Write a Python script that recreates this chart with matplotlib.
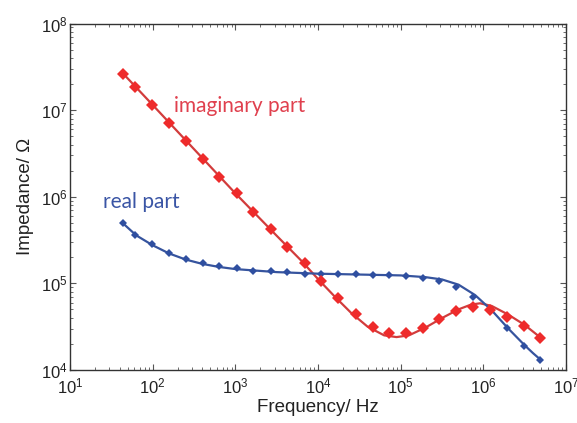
import numpy as np
import matplotlib
matplotlib.use("Agg")
import matplotlib.pyplot as plt
from matplotlib.ticker import LogLocator, NullFormatter

plt.rcParams['font.family'] = ['Liberation Sans', 'DejaVu Sans']
plt.rcParams['mathtext.fontset'] = 'custom'
plt.rcParams['mathtext.rm'] = 'Liberation Sans'
plt.rcParams['mathtext.it'] = 'Liberation Sans'

# measured points (log10 frequency, log10 impedance)
meas_logf = [1.645, 1.786, 1.995, 2.197, 2.399, 2.604, 2.805, 3.015, 3.216, 3.427,
             3.628, 3.842, 4.031, 4.244, 4.458, 4.66, 4.862, 5.063, 5.265, 5.466,
             5.667, 5.869, 6.078, 6.28, 6.49, 6.69]
imag_logz = [7.417, 7.263, 7.055, 6.848, 6.640, 6.432, 6.231, 6.039, 5.827, 5.624,
             5.416, 5.231, 5.027, 4.827, 4.642, 4.499, 4.423, 4.423, 4.482, 4.586,
             4.682, 4.730, 4.692, 4.616, 4.507, 4.368]
real_logz = [5.693, 5.558, 5.450, 5.346, 5.277, 5.238, 5.200, 5.173, 5.146, 5.142,
             5.134, 5.110, 5.112, 5.107, 5.104, 5.098, 5.096, 5.089, 5.058, 5.030,
             4.954, 4.845, 4.700, 4.480, 4.280, 4.114]

# fitted curves
fit_imag_logf = [1.645, 2.0, 2.5, 3.0, 3.5, 3.8, 4.0, 4.2, 4.4, 4.6, 4.8, 4.95, 5.1,
                 5.3, 5.5, 5.7, 5.85, 5.96, 6.1, 6.3, 6.5, 6.69]
fit_imag_logz = [7.42, 7.06, 6.55, 6.04, 5.55, 5.26, 5.05, 4.85, 4.66, 4.50, 4.40,
                 4.38, 4.40, 4.49, 4.60, 4.70, 4.755, 4.77, 4.74, 4.64, 4.52, 4.375]
fit_real_logf = [1.645, 1.8, 2.0, 2.2, 2.4, 2.6, 2.8, 3.0, 3.5, 4.0, 4.5, 5.0, 5.3,
                 5.5, 5.7, 5.9, 6.1, 6.3, 6.5, 6.6, 6.69]
fit_real_logz = [5.69, 5.555, 5.44, 5.345, 5.275, 5.225, 5.19, 5.165, 5.13, 5.112,
                 5.102, 5.092, 5.072, 5.045, 4.985, 4.865, 4.69, 4.48, 4.285, 4.195, 4.12]

red_m = '#ee2b2b'
red_l = '#d23c3c'
blue_m = '#2f4fa0'
blue_l = '#36549e'

fig = plt.figure(figsize=(5.77, 4.23), dpi=100)
ax = fig.add_axes([0.1213, 0.1253, 0.8597, 0.8191])

p10 = lambda v: np.power(10.0, np.asarray(v))

ax.plot(p10(fit_imag_logf), p10(fit_imag_logz), '-', color=red_l, lw=1.6, zorder=2)
ax.plot(p10(fit_real_logf), p10(fit_real_logz), '-', color=blue_l, lw=1.6, zorder=2)
ax.plot(p10(meas_logf), p10(real_logz), 'D', color=blue_m, ms=4.5, mew=0, zorder=3)
ax.plot(p10(meas_logf), p10(imag_logz), 'D', color=red_m, ms=6.5, mew=0, zorder=4)

ax.set_xscale('log')
ax.set_yscale('log')
ax.set_xlim(1e1, 1e7)
ax.set_ylim(1e4, 1e8)
ax.xaxis.set_major_locator(LogLocator(base=10, numticks=10))
ax.yaxis.set_major_locator(LogLocator(base=10, numticks=10))
ax.xaxis.set_minor_locator(LogLocator(base=10, subs=np.arange(2, 10), numticks=20))
ax.yaxis.set_minor_locator(LogLocator(base=10, subs=np.arange(2, 10), numticks=20))
ax.xaxis.set_minor_formatter(NullFormatter())
ax.yaxis.set_minor_formatter(NullFormatter())

ax.tick_params(which='both', direction='in', top=True, right=True, colors='#555555',
               labelcolor='#222222')
ax.tick_params(which='major', length=4, width=0.8, labelsize=12)
ax.tick_params(which='minor', length=2, width=0.6)
ax.tick_params(axis='x', which='major', pad=5)
ax.tick_params(axis='y', which='major', pad=1.5)
for s in ax.spines.values():
    s.set_color('#333333')
    s.set_linewidth(1.0)

ax.set_xlabel('Frequency/ Hz', fontsize=13.5, color='#222222', labelpad=1.5)
ax.set_ylabel('Impedance/ Ω', fontsize=13.5, color='#222222', labelpad=5)

ax.text(0.21, 0.762, 'imaginary part', transform=ax.transAxes, fontsize=15,
        color='#e0404e', family=['Lato', 'DejaVu Sans'], va='center', ha='left')
ax.text(0.066, 0.485, 'real part', transform=ax.transAxes, fontsize=15,
        color='#3a55a5', family=['Lato', 'DejaVu Sans'], va='center', ha='left')

fig.savefig('out.png', dpi=100)
